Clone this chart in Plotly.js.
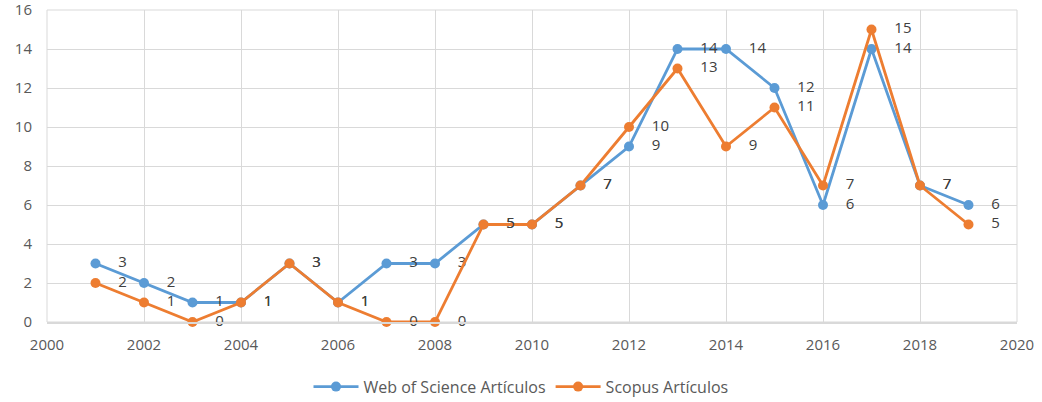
<!DOCTYPE html>
<html>
<head>
<meta charset="utf-8">
<script src="https://cdn.plot.ly/plotly-3.0.1.min.js"></script>
<style>html,body{margin:0;padding:0;background:#fff;overflow:hidden;}#chart{width:1042px;height:402px;}</style>
</head>
<body>
<div id="chart"></div>
<script>
const years = [2001,2002,2003,2004,2005,2006,2007,2008,2009,2010,2011,2012,2013,2014,2015,2016,2017,2018,2019];
const wosValues = [3,2,1,1,3,1,3,3,5,5,7,9,14,14,12,6,14,7,6];
const scopusValues = [2,1,0,1,3,1,0,0,5,5,7,10,13,9,11,7,15,7,5];
const seriesNames = ["Web of Science Artículos", "Scopus Artículos"];
const xTicks = [2000,2002,2004,2006,2008,2010,2012,2014,2016,2018,2020];
const yTicks = [0,2,4,6,8,10,12,14,16];

const font = {family: "Open Sans, Liberation Sans, sans-serif", size: 15, color: "#595959"};

function trace(name, y, color) {
  return {
    type: "scatter", mode: "lines+markers+text", name: name,
    x: years, y: y,
    texttemplate: "    %{y}", textposition: "middle right",
    textfont: {family: font.family, size: 15, color: "#404040"},
    line: {color: color, width: 2.8},
    marker: {color: color, size: 10},
    cliponaxis: false
  };
}

const data = [
  trace(seriesNames[0], wosValues, "#5B9BD5"),
  trace(seriesNames[1], scopusValues, "#ED7D31")
];

const layout = {
  width: 1042, height: 402,
  margin: {l: 47, r: 25, t: 10, b: 80, autoexpand: false},
  paper_bgcolor: "#fff", plot_bgcolor: "#fff",
  font: font,
  showlegend: true,
  legend: {orientation: "h", x: 0.5, xanchor: "center", xref: "container", yref: "container", y: 0.038, yanchor: "middle",
           font: {family: font.family, size: 16, color: "#595959"}, itemwidth: 45},
  xaxis: {range: [2000, 2020], tickmode: "array", tickvals: xTicks, showgrid: true, gridcolor: "#d9d9d9", gridwidth: 1,
          showline: true, linecolor: "#d9d9d9", linewidth: 1.5, mirror: false, zeroline: false, ticks: "", tickfont: font,
          ticklabelstandoff: 8, ticklabeloverflow: "allow", fixedrange: true, automargin: false},
  yaxis: {range: [0, 16], tickmode: "array", tickvals: yTicks, showgrid: true, gridcolor: "#d9d9d9", gridwidth: 1,
          showline: false, zeroline: false, ticks: "", tickfont: font, ticklabelstandoff: 14, ticklabeloverflow: "allow",
          fixedrange: true, automargin: false},
  shapes: [{type: "rect", xref: "paper", yref: "paper", x0: 0, x1: 1, y0: 0, y1: 1, layer: "below",
            fillcolor: "rgba(0,0,0,0)", line: {color: "#d9d9d9", width: 1}}]
};

Plotly.newPlot("chart", data, layout, {displayModeBar: false, staticPlot: true});
</script>
</body>
</html>
